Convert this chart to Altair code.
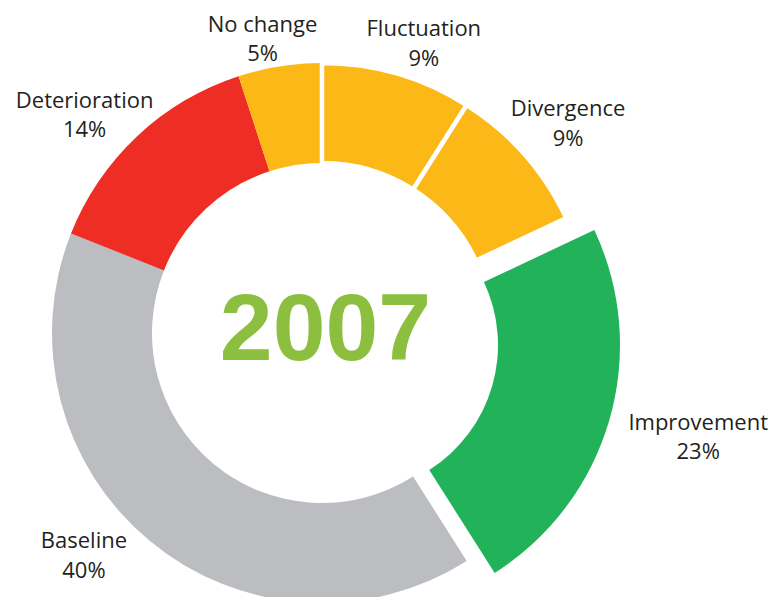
import math
import altair as alt
import pandas as pd

# ---- data ----
categories = ["Fluctuation", "Divergence", "Improvement", "Baseline", "Deterioration", "No change"]
percents = [9, 9, 23, 40, 14, 5]
colors = ["#FCB817", "#FCB817", "#22B25A", "#BCBDC0", "#EE2E24", "#FCB817"]
year = "2007"

# ---- layout (styling / hand placement of the labels) ----
label_angle_deg = [19.3, 49.4, 105.3, 227.1, 312.7, 348.6]
label_radius_px = [308, 324, 390, 325, 323, 301]
CX, CY = 314, 325
R_OUT, R_IN = 270, 170
R_IN_EXPLODED = 148
EXPLODE_DX, EXPLODE_DY = 28, 12

df = pd.DataFrame({
    "cat": categories,
    "pct": percents,
    "order": list(range(len(categories))),
    "la": [a / 3.6 for a in label_angle_deg],
    "lr": label_radius_px,
})

base = (
    alt.Chart(df)
    .transform_window(end="sum(pct)", sort=[alt.SortField("order")], frame=[None, 0])
    .transform_calculate(start="datum.end - datum.pct",
                         label="datum.cat + '\\n' + datum.pct + '%'")
)

theta_scale = alt.Scale(domain=[0, 100], range=[0, 2 * math.pi])
color = alt.Color("cat:N", scale=alt.Scale(domain=categories, range=colors), legend=None)

arc_enc = dict(
    theta=alt.Theta("start:Q", scale=theta_scale),
    theta2="end:Q",
    radius=alt.value(R_OUT),
    x=alt.value(CX),
    y=alt.value(CY),
    color=color,
)

plain = (
    base.transform_filter(alt.FieldOneOfPredicate(field="cat", oneOf=["Baseline", "Deterioration", "No change"]))
    .mark_arc()
    .encode(radius2=alt.value(R_IN), **arc_enc)
)

stroked = (
    base.transform_filter(alt.FieldOneOfPredicate(field="cat", oneOf=["Fluctuation", "Divergence"]))
    .mark_arc(stroke="white", strokeWidth=4.5)
    .encode(radius2=alt.value(R_IN), **arc_enc)
)

exploded = (
    base.transform_filter(alt.FieldEqualPredicate(field="cat", equal="Improvement"))
    .mark_arc(xOffset=EXPLODE_DX, yOffset=EXPLODE_DY)
    .encode(radius2=alt.value(R_IN_EXPLODED), **arc_enc)
)

labels = base.mark_text(
    lineBreak="\n", font="Open Sans", fontSize=22, color="#231F20",
    align="center", baseline="middle", lineHeight=29.5, dy=-13,
).encode(
    theta=alt.Theta("la:Q", scale=theta_scale, stack=False),
    radius=alt.Radius("lr:Q", scale=None),
    x=alt.value(CX),
    y=alt.value(CY),
    text="label:N",
)

center = alt.Chart(pd.DataFrame({"year": [year]})).mark_text(
    font="Liberation Sans", fontWeight="bold", fontSize=95, color="#8CBF40",
    align="center", baseline="alphabetic",
).encode(x=alt.value(317.5), y=alt.value(352), text="year:N")

chart = (
    alt.layer(plain, stroked, exploded, labels, center)
    .properties(width=762, height=589, padding=0, autosize=alt.AutoSizeParams(type="none"))
    .configure_view(strokeWidth=0)
)

chart.save("out.html", embed_options={"renderer": "svg", "actions": False})
